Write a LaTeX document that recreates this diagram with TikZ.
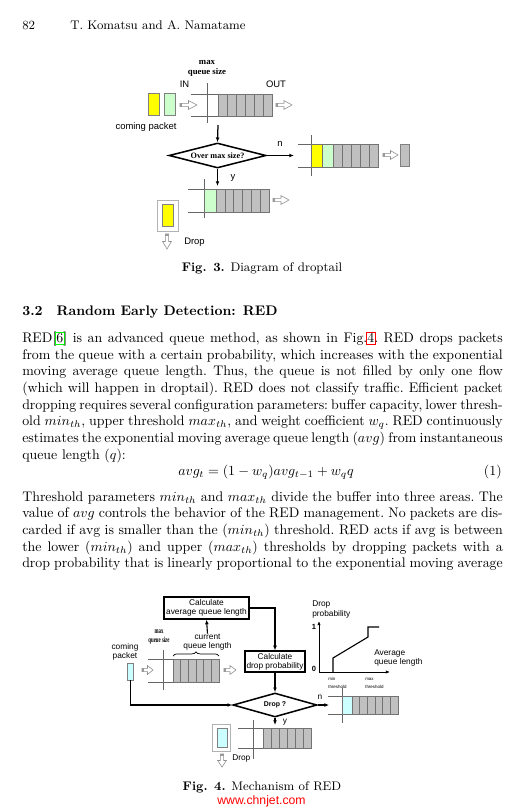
\documentclass[tikz,border=0pt]{standalone}
\usepackage{fontspec}
\usepackage{amsmath}
\usepackage{graphicx}
\usepackage{tikz}
\usetikzlibrary{shapes.geometric,arrows.meta,decorations.pathreplacing}

\newfontfamily\figsans{Liberation Sans}
\newfontfamily\figserif{Liberation Serif}

\definecolor{pktyellow}{RGB}{255,255,0}
\definecolor{pktgreen}{RGB}{204,255,204}
\definecolor{pktcyan}{RGB}{204,255,255}
\definecolor{cellgray}{RGB}{192,192,192}
\definecolor{linkgreen}{RGB}{0,255,0}
\definecolor{linkred}{RGB}{255,0,0}

\newcommand\px{0.72pt}
\newcommand\linkbox[2]{\begingroup\setlength\fboxsep{0.4pt}\setlength\fboxrule{0.6pt}%
  \rlap{\hspace{-1pt}\textcolor{#1}{\fbox{\rule[-1pt]{0pt}{7.6pt}\phantom{#2}}}}#2\endgroup}
\newcommand\tightspaces{\frenchspacing\spaceskip=3.33pt plus 1.66pt minus 1.6pt\relax}

% flecha hueca hacia la derecha: x1, x2, y
\newcommand\hollowright[3]{%
  \filldraw[hollow] (#1,#3-1.7) -- ({#1+0.5*(#2-#1)},#3-1.7) -- ({#1+0.5*(#2-#1)},#3-4.4)
    -- (#2,#3) -- ({#1+0.5*(#2-#1)},#3+4.4) -- ({#1+0.5*(#2-#1)},#3+1.7) -- (#1,#3+1.7) -- cycle;
  \fill[black!40] (#1,#3-1.7) rectangle (#1+1.8,#3+1.7);}
% flecha hueca hacia abajo: x, y1, y2
\newcommand\hollowdown[3]{%
  \filldraw[hollow] (#1-1.7,#2) -- (#1-1.7,{#2+0.5*(#3-#2)}) -- (#1-4.4,{#2+0.5*(#3-#2)})
    -- (#1,#3) -- (#1+4.4,{#2+0.5*(#3-#2)}) -- (#1+1.7,{#2+0.5*(#3-#2)}) -- (#1+1.7,#2) -- cycle;
  \fill[black!40] (#1-1.7,#2) rectangle (#1+1.7,#2+1.8);}

\begin{document}
\begin{tikzpicture}[x=0.72pt,y=-0.72pt,
    flow/.style={-{Latex[length=3.4pt,width=2.8pt]},line width=0.9pt},
    qline/.style={black!60,line width=0.35pt},
    cell/.style={draw=black!55,fill=cellgray,line width=0.35pt},
    pkt/.style={draw=black!50,line width=0.4pt,inner sep=0pt},
    dropframe/.style={draw=black!30,line width=0.5pt,inner sep=0pt},
    hollow/.style={draw=black!45,fill=white,line width=0.4pt},
    lbl/.style={font=\figsans\fontsize{6.8}{7.6}\selectfont,inner sep=0pt,align=center},
    lbls/.style={font=\figsans\fontsize{6}{6.6}\selectfont,inner sep=0pt,align=center},
    thr/.style={font=\figsans\fontsize{3.2}{5.6}\selectfont,inner sep=0pt,align=left},
    serifb/.style={font=\figserif\bfseries\fontsize{6.3}{7.3}\selectfont,inner sep=0pt,align=center},
    calcbox/.style={draw,line width=0.9pt,inner sep=0pt,align=center,
      font=\figsans\fontsize{6}{6.6}\selectfont},
    decide/.style={diamond,draw,line width=1.1pt,inner sep=0pt,aspect=4},
    body/.style={anchor=base west,inner sep=0pt,text width=346pt,align=justify,font=\normalsize}]

  \useasboundingbox[fill=white] (0,0) rectangle (520,811);

  % cabecera
  \node[anchor=base west,inner sep=0pt,font=\small] (pagenum) at (22,29) {82};
  \node[anchor=base west,inner sep=0pt,font=\small] (authors) at (70,29) {T. Komatsu and A. Namatame};

  % ---------------- Fig. 3: droptail ----------------
  \node[serifb] (maxq) at (207,68) {max\\queue size};
  \node[lbl] (inlbl) at (184.5,84) {IN};
  \node[lbl] (outlbl) at (276,84) {OUT};

  \node[pkt,fill=pktyellow,minimum width={11*\px},minimum height={22*\px}] (in1) at (153.5,104) {};
  \node[pkt,fill=pktgreen,minimum width={11*\px},minimum height={22*\px}] (in2) at (169.5,104) {};
  \node[lbl] (coming) at (146,127) {coming packet};
  \hollowright{180}{197}{105}

  % cola de entrada
  \draw[qline] (191,94) -- (272,94) (191,116) -- (272,116) (207,83) -- (207,123);
  \foreach \i in {0,...,5} \draw[cell] (218+9*\i,94) rectangle +(9,22);
  \hollowright{276}{292}{105}

  \node[decide,minimum width={97*\px},minimum height={25*\px},
    font=\figserif\bfseries\fontsize{5.9}{6.5}\selectfont] (over) at (217.5,155.5) {Over max size?};
  \coordinate (qbot) at (218,125);
  \coordinate (nend) at (294,155.5);
  \coordinate (yend) at (217.5,186);
  \draw[flow] (qbot) -- (over.north);
  \draw[flow] (over.east) -- (nend);
  \draw[flow] (over.south) -- (yend);
  \node[lbl] (nlbl) at (280,144) {n};
  \node[lbl] (ylbl) at (233,178) {y};

  % cola si no se llena
  \draw[qline] (298,144) -- (378,144) (298,167) -- (378,167) (311,135) -- (311,176);
  \draw[cell,fill=pktyellow] (311,144) rectangle (322,167);
  \draw[cell,fill=pktgreen] (322,144) rectangle (333,167);
  \foreach \i in {0,...,4} \draw[cell] (333+9*\i,144) rectangle +(9,23);
  \hollowright{383}{398}{155}
  \node[pkt,fill=cellgray,minimum width={9*\px},minimum height={22*\px}] (outpkt) at (404.5,155) {};

  % cola llena
  \draw[qline] (188,189) -- (269,189) (188,212) -- (269,212) (204,179) -- (204,218);
  \draw[cell,fill=pktgreen] (204,189) rectangle (216,212);
  \foreach \i in {0,...,5} \draw[cell] (216+8.83*\i,189) rectangle +(8.83,23);
  \hollowright{273}{289}{200}

  \node[dropframe,minimum width={21*\px},minimum height={31*\px}] (dropbox) at (167.5,215.5) {};
  \node[pkt,fill=pktyellow,minimum width={11*\px},minimum height={22*\px}] (droppkt) at (167.5,215) {};
  \hollowdown{167}{234}{249}
  \node[lbl,anchor=west] (droplbl) at (184,242) {Drop};

  \node[anchor=base,inner sep=0pt,font=\small] (cap3) at (262,271.5) {\textbf{Fig. 3.} Diagram of droptail};

  % ---------------- texto ----------------
  \node[anchor=base west,inner sep=0pt,font=\normalsize\bfseries] (sect) at (22,315.5)
    {3.2\quad Random Early Detection: RED};

  \node[body] (para1) at (22,342.5) {\tightspaces
    RED[\linkbox{linkgreen}{6}] is an advanced queue method, as shown in Fig.\linkbox{linkred}{4}. RED drops packets\linebreak
    from the queue with a certain probability, which increases with the exponential\linebreak
    moving average queue length. Thus, the queue is not filled by only one flow\linebreak
    (which will happen in droptail). RED does not classify traffic. Efficient packet\linebreak
    dropping requires several configuration parameters: buffer capacity, lower thresh-\linebreak
    old $min_{th}$, upper threshold $max_{th}$, and weight coefficient $w_q$. RED continuously\linebreak
    estimates the exponential moving average queue length ($avg$) from instantaneous\linebreak
    queue length ($q$):};

  \node[anchor=base,inner sep=0pt] (eq) at (266,475.5) {$\displaystyle avg_t = (1-w_q)avg_{t-1} + w_q q$};
  \node[anchor=base east,inner sep=0pt] (eqnum) at (502,475.5) {(1)};

  \node[body] (para2) at (22,501) {\tightspaces\parfillskip=0pt
    Threshold parameters $min_{th}$ and $max_{th}$ divide the buffer into three areas. The\linebreak
    value of $avg$ controls the behavior of the RED management. No packets are dis-\linebreak
    carded if avg is smaller than the ($min_{th}$) threshold. RED acts if avg is between\linebreak
    the lower ($min_{th}$) and upper ($max_{th}$) thresholds by dropping packets with a\linebreak
    drop probability that is linearly proportional to the exponential moving average};

  % ---------------- Fig. 4: RED ----------------
  \node[calcbox,minimum width={85*\px},minimum height={22*\px}] (avgq) at (206.5,608)
    {Calculate\\average queue length};
  \node[calcbox,minimum width={60*\px},minimum height={21*\px}] (dprob) at (275,661.5)
    {Calculate\\drop probability};
  \node[decide,minimum width={84*\px},minimum height={24*\px},
    font=\figsans\bfseries\fontsize{5}{6}\selectfont] (dropq) at (275,705) {Drop ?};

  \node[lbls] (curlen) at (207.5,642) {current\\queue length};
  \node[serifb,font=\figserif\bfseries\fontsize{5.6}{7}\selectfont] (maxq2) at (159,637)
    {\scalebox{0.62}[1]{max}\\\scalebox{0.62}[1]{queue size}};
  \node[lbls] (coming2) at (125,652) {coming\\packet};
  \node[pkt,fill=pktcyan,minimum width={6*\px},minimum height={17*\px}] (inc) at (130.5,671.5) {};

  \draw[flow,line width=0.8pt] (curlen.north) -- (avgq.south);
  \draw[flow,line width=0.8pt] (avgq.east) -| (dprob.north);
  \draw[flow,line width=0.8pt] (dprob.south) -- (dropq.north);
  \draw[flow,line width=0.8pt] (inc.south) |- (dropq.west);

  % cola actual
  \draw[qline] (148,659) -- (219,659) (148,682) -- (219,682) (163,650) -- (163,690);
  \foreach \i in {0,...,5} \draw[cell] (173+7.67*\i,659) rectangle +(7.67,23);
  \draw[decorate,decoration={brace,amplitude=3pt},line width=0.5pt] (173,656) -- (219,656);
  \hollowright{142}{153}{670}
  \hollowright{224}{236}{670}

  \coordinate (rq) at (329,705);
  \coordinate (lq) at (275,725);
  \draw[flow,line width=0.8pt] (dropq.east) -- (rq);
  \draw[flow,line width=0.8pt] (dropq.south) -- (lq);
  \node[lbls] (nlbl2) at (320,697) {n};
  \node[lbls] (ylbl2) at (285,722) {y};

  % cola sin descarte
  \draw[qline] (328,696) -- (398,696) (328,714) -- (398,714) (342,688) -- (342,723);
  \draw[cell,fill=pktcyan] (342,696) rectangle (352,714);
  \foreach \i in {0,...,5} \draw[cell] (352+7.67*\i,696) rectangle +(7.67,18);

  % cola con descarte
  \draw[qline] (238,728) -- (311,728) (238,748) -- (311,748) (253,720) -- (253,759);
  \foreach \i in {0,...,5} \draw[cell] (263+8*\i,728) rectangle +(8,20);
  \node[dropframe,minimum width={18*\px},minimum height={27*\px}] (dropbox2) at (221,737.5) {};
  \node[pkt,fill=pktcyan,minimum width={10*\px},minimum height={19*\px}] (droppkt2) at (222,737.5) {};
  \hollowdown{222}{754}{767}
  \node[lbls,anchor=west] (droplbl2) at (232,758) {Drop};

  % grafica de probabilidad
  \coordinate (orig) at (319,672);
  \coordinate (ytop) at (319,621);
  \coordinate (xend) at (390,672);
  \draw[-{Latex[length=3pt,width=2.4pt]},line width=0.6pt] (orig) -- (ytop);
  \draw[-{Latex[length=3pt,width=2.4pt]},line width=0.6pt] (orig) -- (xend);
  \draw[line width=0.8pt] (333,672) -- (333,658) -- (368,637) -- (368,627) -- (379,627);
  \node[lbls,align=left,anchor=west] (dplbl) at (312,609.5) {Drop\\probability};
  \node[lbls,font=\figsans\bfseries\fontsize{5.4}{6}\selectfont] (one) at (314,627) {1};
  \node[lbls,font=\figsans\bfseries\fontsize{5.4}{6}\selectfont] (zero) at (314,669) {0};
  \node[lbls,align=left,anchor=west] (avglbl) at (374,658) {Average\\queue length};
  \node[thr,anchor=west] (minth) at (328,683) {min\\threshold};
  \node[thr,anchor=west] (maxth) at (365,683) {max\\threshold};

  \node[anchor=base,inner sep=0pt,font=\small] (cap4) at (262,790.5) {\textbf{Fig. 4.} Mechanism of RED};
  \node[inner sep=0pt,font=\figsans\fontsize{8.8}{10}\selectfont,text=linkred] (wmark) at (261.5,801) {www.chnjet.com};
\end{tikzpicture}
\end{document}
